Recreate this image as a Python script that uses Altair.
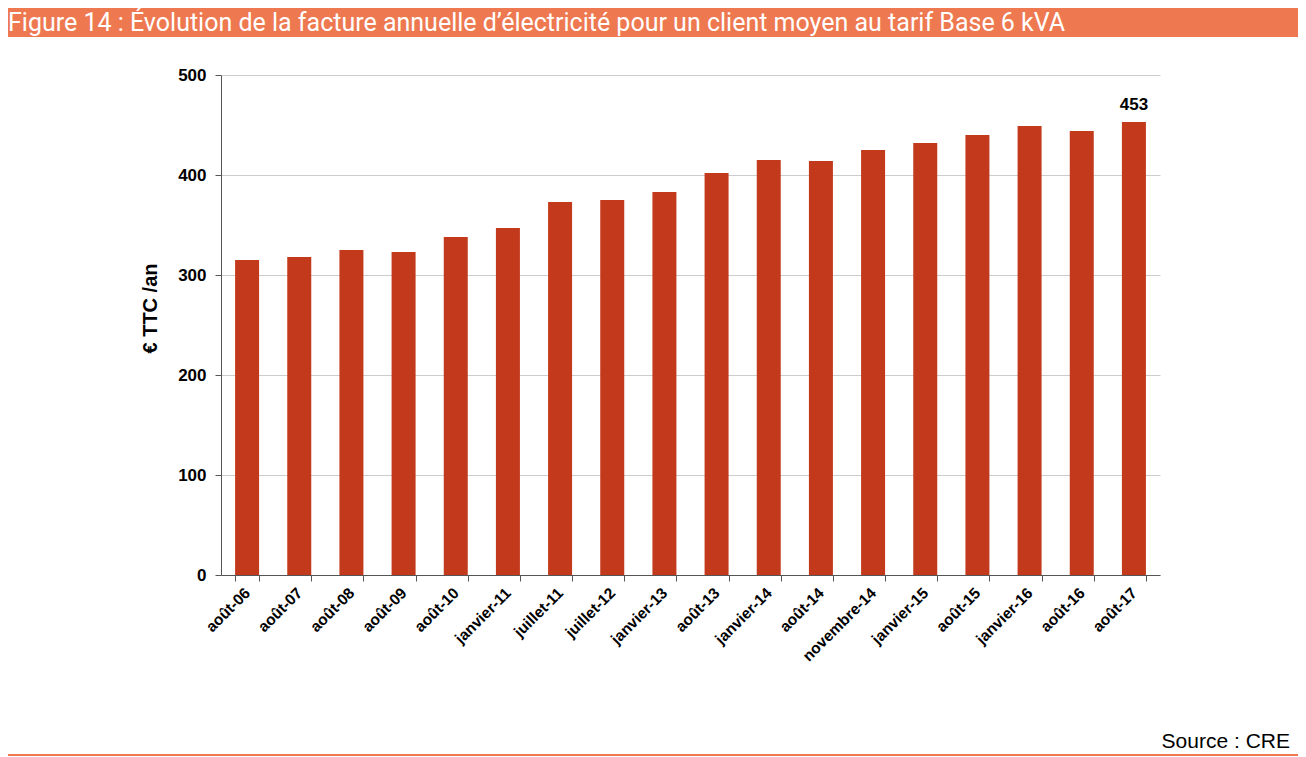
import altair as alt
import pandas as pd

categories = ["août-06", "août-07", "août-08", "août-09", "août-10", "janvier-11",
              "juillet-11", "juillet-12", "janvier-13", "août-13", "janvier-14",
              "août-14", "novembre-14", "janvier-15", "août-15", "janvier-16",
              "août-16", "août-17"]
values = [315, 318, 325, 323, 338, 347, 373, 375, 383, 402, 415, 414, 425, 432,
          440, 449, 444, 453]
y_ticks = [0, 100, 200, 300, 400, 500]
title_text = "Figure 14 : Évolution de la facture annuelle d’électricité pour un client moyen au tarif Base 6 kVA"
source_text = "Source : CRE"
y_title = "€ TTC /an"

df = pd.DataFrame({"periode": categories, "facture": values})
df_last = df.iloc[[-1]]

W, H = 939, 500
PL, PT = 213, 67
TOTAL_W, TOTAL_H = 1290, 749
PR = TOTAL_W - PL - W
PB = TOTAL_H - PT - H

ORANGE = "#EE7850"
BAR = "#C3391B"
FONT = "Liberation Sans"

x_enc = alt.X(
    "periode:N", sort=categories,
    scale=alt.Scale(paddingInner=0.54, paddingOuter=0.27),
    axis=alt.Axis(title=None, labelAngle=-45, labelAlign="right", labelBaseline="middle",
                  labelFont=FONT, labelFontWeight="bold", labelFontSize=15.5, labelColor="#000",
                  labelPadding=9, tickBand="extent", ticks=True, tickSize=6,
                  tickColor="#555", domainColor="#555", grid=False)
)
y_enc = alt.Y(
    "facture:Q", scale=alt.Scale(domain=[0, 500], nice=False),
    axis=alt.Axis(values=y_ticks, title=y_title, titleFont=FONT, titleFontSize=20,
                  titleFontWeight="bold", titleColor="#000", titlePadding=17, titleY=233,
                  labelFont=FONT, labelFontWeight="bold", labelFontSize=17, labelColor="#000",
                  labelPadding=9, tickSize=6, tickColor="#555", domainColor="#555",
                  gridColor="#cccccc", grid=True)
)

bars = alt.Chart(df).mark_bar(color=BAR).encode(x=x_enc, y=y_enc)

last_label = alt.Chart(df_last).mark_text(
    font=FONT, fontWeight="bold", fontSize=17, color="#000", baseline="bottom", dy=-8
).encode(x=alt.X("periode:N", sort=categories), y="facture:Q", text=alt.Text("facture:Q"))

one = pd.DataFrame({"t": [title_text], "s": [source_text]})

title_bar = alt.Chart(one).mark_rect(color=ORANGE).encode(
    x=alt.value(-PL), x2=alt.value(TOTAL_W - PL), y=alt.value(-PT), y2=alt.value(-PT + 29)
)
title_txt = alt.Chart(one).mark_text(
    align="left", baseline="middle", color="white", font="Roboto", fontSize=25
).encode(x=alt.value(-PL + 0), y=alt.value(-PT + 15), text="t:N")

source_txt = alt.Chart(one).mark_text(
    align="right", baseline="alphabetic", color="#000", font="Liberation Sans", fontSize=21
).encode(x=alt.value(TOTAL_W - PL - 8), y=alt.value(673), text="s:N")

bottom_line = alt.Chart(one).mark_rule(color=ORANGE, strokeWidth=2).encode(
    x=alt.value(-PL), x2=alt.value(TOTAL_W - PL), y=alt.value(TOTAL_H - PT - 2)
)

chart = alt.layer(bars, last_label, title_bar, title_txt, source_txt, bottom_line).properties(
    width=W, height=H,
    padding={"left": PL, "top": PT, "right": PR, "bottom": PB},
    autosize=alt.AutoSizeParams(type="none"),
    background="white",
).configure_view(stroke=None)

chart.save("out.html", embed_options={"renderer": "svg", "actions": False})
